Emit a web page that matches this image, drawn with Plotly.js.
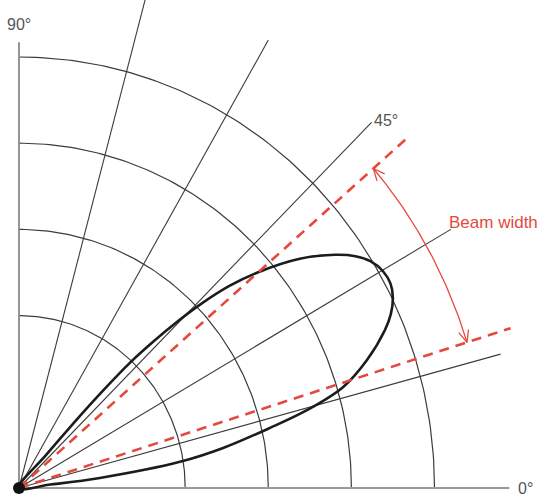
<!DOCTYPE html>
<html>
<head>
<meta charset="utf-8">
<script src="https://cdn.plot.ly/plotly-3.0.1.min.js"></script>
<style>html,body{margin:0;padding:0;background:#fff}#chart{width:542px;height:501px}</style>
</head>
<body>
<div id="chart"></div>
<script>
// ---- data (polar: angle in degrees, radius in grid units) ----
const gridRadii = [2, 3, 4, 5];
const spokeAngles = [15, 30, 45, 60, 75];
const spokeLength = 6;
const zeroAxisLength = 5.9;
const ninetyAxisLength = 5.17;
const tickAngles = [0, 45, 90];
const tickLabels = ['0°', '45°', '90°'];
const beamEdgeAngles = [41, 17.4];
const beamEdgeLength = 6.2;
const beamArcRadius = 5.65;
const beamLabel = 'Beam width';
const lobeTheta = [50, 49.6, 48.9, 48.2, 47.4, 46.4, 45.4, 44.3, 42.8, 41.1, 38.2, 35.4, 33.6, 31.9, 29.9, 27.9, 26.1, 24.3, 22.6, 19.5, 16.7, 14.6, 13.0, 10.7, 8.9, 6.8, 6.0, 6.0];
const lobeR     = [0, 0.50, 1.00, 1.50, 1.98, 2.35, 2.70, 3.05, 3.45, 3.80, 4.30, 4.67, 4.86, 4.98, 5.05, 5.06, 5.01, 4.91, 4.77, 4.44, 4.07, 3.58, 3.10, 2.50, 1.96, 0.98, 0.38, 0];

// ---- helpers ----
const d2r = Math.PI / 180;
function px(th, r) { return r * Math.cos(th * d2r); }
function py(th, r) { return r * Math.sin(th * d2r); }
function arc(r, a0, a1, n) {
  const x = [], y = [];
  for (let i = 0; i <= n; i++) { const a = a0 + (a1 - a0) * i / n; x.push(px(a, r)); y.push(py(a, r)); }
  return {x, y};
}

const grid = '#3c3c3c';
const red = '#e5493d';
const traces = [];

gridRadii.forEach(r => {
  const a = arc(r, 0, 90, 120);
  traces.push({type: 'scatter', mode: 'lines', x: a.x, y: a.y, line: {color: grid, width: 1.2}, hoverinfo: 'skip'});
});
spokeAngles.forEach(t => {
  traces.push({type: 'scatter', mode: 'lines', x: [0, px(t, spokeLength)], y: [0, py(t, spokeLength)], line: {color: grid, width: 1.1}, hoverinfo: 'skip'});
});
// axes
traces.push({type: 'scatter', mode: 'lines', x: [0, zeroAxisLength], y: [0, 0], line: {color: '#9a9a9a', width: 2}, hoverinfo: 'skip'});
traces.push({type: 'scatter', mode: 'lines', x: [0, 0], y: [0, ninetyAxisLength], line: {color: '#8a8a8a', width: 1.8}, hoverinfo: 'skip'});

// lobe
traces.push({type: 'scatter', mode: 'lines',
  x: lobeTheta.map((t, i) => px(t, lobeR[i])), y: lobeTheta.map((t, i) => py(t, lobeR[i])),
  line: {color: '#1c1c1c', width: 2.6, shape: 'spline', smoothing: 1}, hoverinfo: 'skip'});

// beam edges
beamEdgeAngles.forEach(t => {
  traces.push({type: 'scatter', mode: 'lines', x: [0, px(t, beamEdgeLength)], y: [0, py(t, beamEdgeLength)],
    line: {color: red, width: 2.6, dash: '10px,7px'}, hoverinfo: 'skip'});
});

// beam arc
const ba = arc(beamArcRadius, beamEdgeAngles[1], beamEdgeAngles[0], 60);
traces.push({type: 'scatter', mode: 'lines', x: ba.x, y: ba.y, line: {color: red, width: 1.3}, hoverinfo: 'skip'});
// open chevron arrowheads at both arc ends
const headLen = 0.15, headSpread = 24 * d2r;
[[beamEdgeAngles[0], -1], [beamEdgeAngles[1], 1]].forEach(([a, sgn]) => {
  const tx = px(a, beamArcRadius), ty = py(a, beamArcRadius);
  const dx = -Math.sin(a * d2r) * sgn, dy = Math.cos(a * d2r) * sgn;
  const arm = s => {
    const c = Math.cos(s), si = Math.sin(s);
    return [tx + headLen * (dx * c - dy * si), ty + headLen * (dx * si + dy * c)];
  };
  const p1 = arm(headSpread), p2 = arm(-headSpread);
  traces.push({type: 'scatter', mode: 'lines', x: [p1[0], tx, p2[0]], y: [p1[1], ty, p2[1]],
    line: {color: red, width: 1.3}, hoverinfo: 'skip'});
});

// origin dot
traces.push({type: 'scatter', mode: 'markers', x: [0], y: [0], marker: {color: '#111', size: 12}, hoverinfo: 'skip'});

const labelR = [6.1, 6.14, 5.38];
const labelA = [0, 44, 90];
const annotations = tickLabels.map((t, i) => ({
  x: px(labelA[i], labelR[i]), y: py(labelA[i], labelR[i]), xref: 'x', yref: 'y',
  text: t, showarrow: false, font: {family: 'Liberation Sans, Arial, sans-serif', size: 16, color: '#555'}
}));
annotations.push({x: px(28.3, 6.49), y: py(28.3, 6.49), xref: 'x', yref: 'y', text: beamLabel, showarrow: false,
  font: {family: 'Liberation Sans, Arial, sans-serif', size: 17, color: red}});

const layout = {
  width: 542, height: 501,
  margin: {l: 0, r: 0, t: 0, b: 0},
  paper_bgcolor: '#fff', plot_bgcolor: '#fff',
  showlegend: false,
  xaxis: {range: [-19 / 83.1, 523 / 83.1], visible: false, fixedrange: true},
  yaxis: {range: [-13 / 86.2, 488 / 86.2], visible: false, fixedrange: true},
  annotations: annotations
};
Plotly.newPlot('chart', traces, layout, {staticPlot: true});
</script>
</body>
</html>
